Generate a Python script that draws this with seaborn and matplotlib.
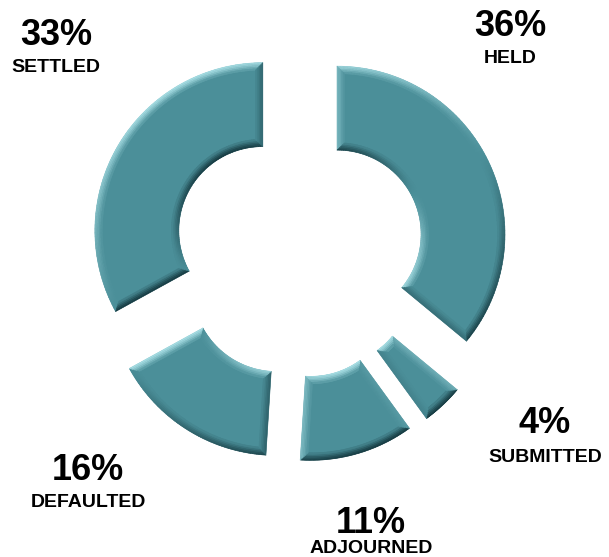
import numpy as np
import matplotlib
matplotlib.use("Agg")
import matplotlib.pyplot as plt
from matplotlib.collections import PolyCollection
from matplotlib.colors import to_rgb
import seaborn as sns

# Case outcomes (share of all cases, %), clockwise from 12 o'clock
categories = ["HELD", "SUBMITTED", "ADJOURNED", "DEFAULTED", "SETTLED"]
shares = [36, 4, 11, 16, 33]

# Label anchors in figure pixels: (x centre, baseline of % line, baseline of name line)
label_pos = {
    "HELD": (510, 36, 63),
    "SUBMITTED": (545, 433, 462),
    "ADJOURNED": (371, 533, 553),
    "DEFAULTED": (88, 480, 507),
    "SETTLED": (56, 45, 72),
}

sns.set_theme(style="white")
plt.rcParams["font.family"] = ["Liberation Sans", "DejaVu Sans"]

FACE = np.array(to_rgb("#4b8f99"))
LIGHT = np.array(to_rgb("#a6dde3"))
DARK = np.array(to_rgb("#173c43"))

W_PX, H_PX = 609, 557
CX_PX, CY_PX, R_PX = 299, 252, 168

fig = plt.figure(figsize=(W_PX / 100, H_PX / 100), dpi=100)
ax = fig.add_axes([0, 0, 1, 1])

wedges, _ = ax.pie(
    shares,
    startangle=90,
    counterclock=False,
    radius=1.0,
    explode=[0.25] * len(shares),
    wedgeprops=dict(width=0.5, facecolor=FACE, edgecolor="none", linewidth=0),
)

ax.set_aspect("auto")
ax.set_xlim(-CX_PX / R_PX, (W_PX - CX_PX) / R_PX)
ax.set_ylim(-(H_PX - CY_PX) / R_PX, CY_PX / R_PX)
ax.axis("off")


def contour(w, d, n_arc=90):
    """Outline of a ring wedge pulled inward by distance d (counter-clockwise)."""
    cx, cy = w.center
    r_out = w.r - d
    r_in = w.r - w.width + d
    t1, t2 = np.radians(w.theta1), np.radians(w.theta2)
    ao = np.arcsin(d / r_out)
    ai = np.arcsin(d / r_in)
    ang_o = np.linspace(t1 + ao, t2 - ao, n_arc)
    ang_i = np.linspace(t2 - ai, t1 + ai, n_arc)
    outer = np.c_[cx + r_out * np.cos(ang_o), cy + r_out * np.sin(ang_o)]
    inner = np.c_[cx + r_in * np.cos(ang_i), cy + r_in * np.sin(ang_i)]
    end = np.array([outer[-1], inner[0]])
    start = np.array([inner[-1], outer[0]])
    return [outer, end, inner, start]


light_dir = np.array([np.cos(np.radians(118)), np.sin(np.radians(118))])
bevel = 7.5 / R_PX
steps = np.linspace(0, bevel, 6)
slopes = [1.0, 0.85, 0.65, 0.42, 0.2]


def shade(s):
    if s >= 0:
        return FACE + s * (LIGHT - FACE)
    return FACE + (-s) * (DARK - FACE)


for w in wedges:
    polys, cols = [], []
    rings = [contour(w, d) for d in steps]
    for k in range(len(steps) - 1):
        A, B = rings[k], rings[k + 1]
        for ea, eb in zip(A, B):
            for j in range(len(ea) - 1):
                p, q = ea[j], ea[j + 1]
                seg = q - p
                n = np.array([seg[1], -seg[0]])
                n = n / (np.hypot(*n) + 1e-12)
                s = float(np.dot(n, light_dir)) * slopes[k]
                polys.append([ea[j], ea[j + 1], eb[j + 1], eb[j]])
                cols.append(np.clip(shade(s), 0, 1))
    pc = PolyCollection(polys, facecolors=cols, edgecolors=cols,
                        linewidths=0.4, zorder=3)
    ax.add_collection(pc)

for cat, val in zip(categories, shares):
    x, yb_pct, yb_name = label_pos[cat]
    fig.text(x / W_PX, 1 - yb_pct / H_PX, f"{val}%", ha="center",
             va="baseline", fontsize=26, fontweight="bold", color="black")
    fig.text(x / W_PX, 1 - yb_name / H_PX, cat, ha="center",
             va="baseline", fontsize=14, fontweight="bold", color="black")

fig.savefig("out.png", dpi=100, facecolor="white")
